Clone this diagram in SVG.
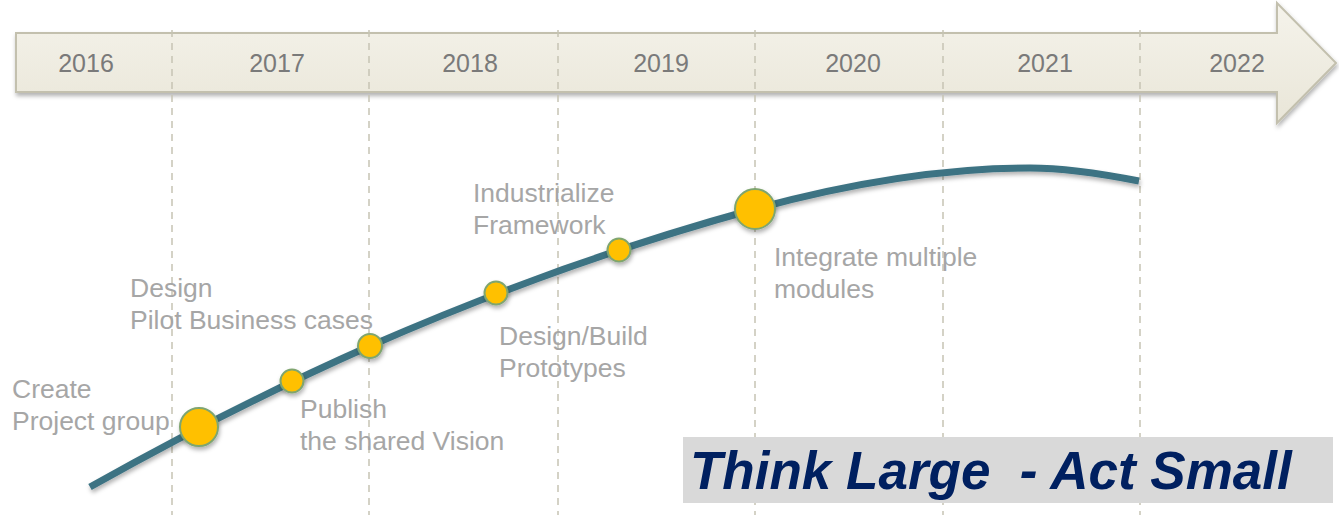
<svg xmlns="http://www.w3.org/2000/svg" width="1339" height="515" viewBox="0 0 1339 515">
  <style>
    .year { font-family: "Liberation Sans", Arial, sans-serif; font-size: 25px; fill: #7a7a7a; text-anchor: middle; }
    .label { font-family: "Liberation Sans", Arial, sans-serif; font-size: 26.5px; fill: #a6a6a6; }
    .grid { stroke: #c6c3b4; stroke-width: 1.5; stroke-dasharray: 7 6; fill: none; }
    .ms { fill: #ffc000; stroke: #7fa56f; stroke-width: 2; filter: url(#soft); }
    .motto { font-family: "Liberation Sans", Arial, sans-serif; font-size: 53px; font-weight: bold; font-style: italic; fill: #002060; white-space: pre; }
  </style>
  <defs>
    <linearGradient id="band" x1="0" y1="0" x2="0" y2="1">
      <stop offset="0" stop-color="#f5f3eb"/>
      <stop offset="1" stop-color="#e9e6d8"/>
    </linearGradient>
    <filter id="soft" x="-30%" y="-30%" width="160%" height="170%">
      <feDropShadow dx="1" dy="3" stdDeviation="2" flood-color="#000" flood-opacity="0.3"/>
    </filter>
  </defs>

  <!-- timeline arrow -->
  <g id="timeline">
    <path d="M16,33 H1277 V3 L1336,63 L1277,123 V92 H16 Z" fill="url(#band)" stroke="#c3c0ae" stroke-width="2" filter="url(#soft)"/>
    <text class="year" x="86" y="72">2016</text>
    <text class="year" x="277" y="72">2017</text>
    <text class="year" x="470" y="72">2018</text>
    <text class="year" x="661" y="72">2019</text>
    <text class="year" x="853" y="72">2020</text>
    <text class="year" x="1045" y="72">2021</text>
    <text class="year" x="1237" y="72">2022</text>
  </g>

  <!-- year dividers -->
  <g id="dividers">
    <line class="grid" x1="172" y1="30" x2="172" y2="515"/>
    <line class="grid" x1="369" y1="30" x2="369" y2="515"/>
    <line class="grid" x1="558" y1="30" x2="558" y2="515"/>
    <line class="grid" x1="755" y1="30" x2="755" y2="515"/>
    <line class="grid" x1="943" y1="30" x2="943" y2="515"/>
    <line class="grid" x1="1140" y1="30" x2="1140" y2="515"/>
  </g>

  <!-- motto banner -->
  <g id="motto">
    <rect x="683" y="437" width="650" height="66" fill="#d9d9d9"/>
    <text class="motto" x="690" y="489" xml:space="preserve">Think Large  - Act Small</text>
  </g>

  <!-- growth curve -->
  <g id="connectors">
    <path d="M90,487 C183,435 277,387 370,346 C498,290 627,244 755,209 C847,184 938,168 1030,168 C1066,168 1103,174 1139,181" fill="none" stroke="#3e7383" stroke-width="7" filter="url(#soft)"/>
  </g>

  <!-- milestones -->
  <g id="m-create">
    <circle class="ms" cx="199" cy="427" r="19"/>
    <text class="label" x="12" y="398">Create</text>
    <text class="label" x="12" y="430">Project group</text>
  </g>
  <g id="m-publish">
    <circle class="ms" cx="292" cy="381" r="11.5"/>
    <text class="label" x="300" y="418">Publish</text>
    <text class="label" x="300" y="450">the shared Vision</text>
  </g>
  <g id="m-design">
    <circle class="ms" cx="370" cy="346" r="12"/>
    <text class="label" x="130" y="297">Design</text>
    <text class="label" x="130" y="329">Pilot Business cases</text>
  </g>
  <g id="m-prototypes">
    <circle class="ms" cx="496" cy="293" r="11.5"/>
    <text class="label" x="499" y="345">Design/Build</text>
    <text class="label" x="499" y="377">Prototypes</text>
  </g>
  <g id="m-framework">
    <circle class="ms" cx="619" cy="250" r="11.5"/>
    <text class="label" x="473" y="202">Industrialize</text>
    <text class="label" x="473" y="234">Framework</text>
  </g>
  <g id="m-integrate">
    <circle class="ms" cx="755" cy="209" r="20"/>
    <text class="label" x="774" y="266">Integrate multiple</text>
    <text class="label" x="774" y="298">modules</text>
  </g>
</svg>
